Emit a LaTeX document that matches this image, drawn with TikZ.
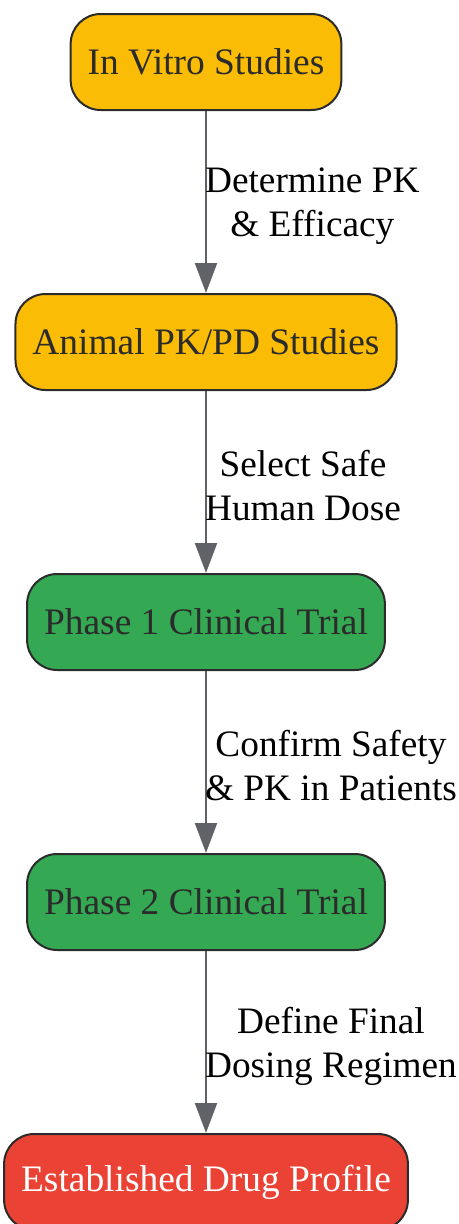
\documentclass[tikz,border=0pt]{standalone}
\usepackage{fontspec}
\setmainfont{Liberation Serif}
\usepackage{tikz}
\usetikzlibrary{arrows.meta}

\definecolor{stageyellow}{HTML}{FBBC05}
\definecolor{stagegreen}{HTML}{34A853}
\definecolor{stagered}{HTML}{EA4335}
\definecolor{edgegray}{HTML}{5F6368}
\definecolor{boxline}{HTML}{2B2B2B}

\begin{document}
\begin{tikzpicture}[x=1pt,y=-1pt,
    stage/.style={draw=boxline,line width=2pt,rounded corners=30pt,minimum height=96pt,
      inner xsep=17pt,font=\fontsize{37.4}{44}\selectfont,text=boxline},
    flow/.style={draw=edgegray,line width=2.2pt,-{Triangle[length=30pt,width=22pt]}},
    note/.style={anchor=west,inner sep=0pt,align=center,font=\fontsize{37.3}{44}\selectfont}]
      \useasboundingbox (0,0) rectangle (458,1224);
      \node[stage,fill=stageyellow] (vitro) at (206,62) {In Vitro Studies};
      \node[stage,fill=stageyellow] (animal) at (206,342) {Animal PK/PD Studies};
      \node[stage,fill=stagegreen] (ph1) at (206,622) {Phase 1 Clinical Trial};
      \node[stage,fill=stagegreen] (ph2) at (206,902) {Phase 2 Clinical Trial};
      \node[stage,fill=stagered,text=white,minimum width=402pt] (profile) at (206,1182) {Established Drug Profile};
      \draw[flow] (vitro) -- (animal) node[note,midway,xshift=-2pt,yshift=-4pt] {Determine PK\\\& Efficacy};
      \draw[flow] (animal) -- (ph1) node[note,midway,xshift=-2pt,yshift=-4pt] {Select Safe\\Human Dose};
      \draw[flow] (ph1) -- (ph2) node[note,midway,xshift=-2pt,yshift=-4pt] {Confirm Safety\\\& PK in Patients};
      \draw[flow] (ph2) -- (profile) node[note,midway,xshift=-2pt,yshift=-4pt] {Define Final\\Dosing Regimen};
\end{tikzpicture}
\end{document}
